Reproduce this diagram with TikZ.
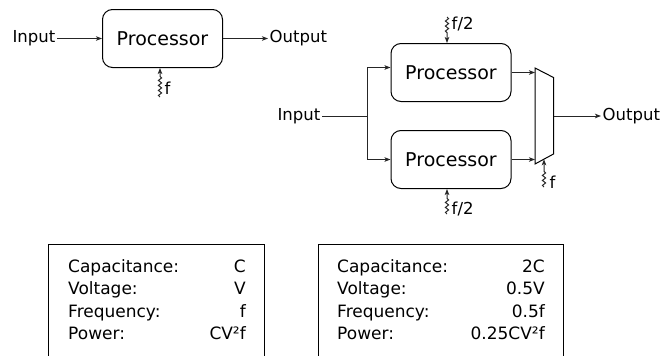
\documentclass[tikz,border=0pt]{standalone}
\usepackage{fontspec}
\setmainfont{DejaVu Sans}
\usetikzlibrary{arrows.meta,decorations.pathmorphing,positioning}

\tikzset{
  proc/.style={draw, line width=1pt, rounded corners=10pt,
    minimum width=120pt, minimum height=58pt,
    font=\fontsize{19}{22}\selectfont},
  lbl/.style={inner sep=1.5pt, font=\fontsize{16.5}{19}\selectfont},
  tbl/.style={inner sep=0pt, font=\fontsize{17}{20}\selectfont},
  wire/.style={line width=1pt, black!85},
  sig/.style={wire, -{Stealth[length=6pt,width=4.5pt,inset=1.5pt]}},
  clk/.style={decorate, decoration={snake, amplitude=1.6pt, segment length=5pt}},
}

\begin{document}
\begin{tikzpicture}[x=1pt,y=-1pt]
  \clip (0,0) rectangle (662,356);

  % one processor at full clock
  \node[proc] (proc1) at (162.5,38.5) {Processor};
  \node[lbl, anchor=east] (in1) at (57,38.5) {Input};
  \node[lbl, anchor=west] (out1) at (268,38.5) {Output};
  \draw[sig] (in1) -- (proc1);
  \draw[sig] (proc1) -- (out1);

  \coordinate (f1s) at (160,97);
  \draw[sig] (f1s) decorate[clk] {-- ++(0,-21)} -- (proc1.south -| f1s);
  \node[lbl, anchor=west] (f1) at (163,88) {f};

  % two processors at half clock
  \node[proc] (pA) at (451,72.5) {Processor};
  \node[proc] (pB) at (451,159.5) {Processor};

  \node[lbl, anchor=east] (in2) at (322,116) {Input};
  \coordinate (br) at (367,116);
  \coordinate (ja) at ([yshift=5pt]pA.west);
  \draw[wire] (in2) -- (br);
  \draw[sig] (br) |- (ja);
  \draw[sig] (br) |- (pB.west);

  % multiplexer
  \coordinate (m1) at (535,68);
  \coordinate (m2) at (553.5,77.5);
  \coordinate (m3) at (553.5,154);
  \coordinate (m4) at (535,164);
  \draw[line width=1pt] (m1) -- (m2) -- (m3) -- (m4) -- cycle;
  \draw[sig] (pA.east) -- (pA.east -| m1);
  \draw[sig] (pB.east) -- (pB.east -| m1);

  \coordinate (mo) at (553.5,116);
  \node[lbl, anchor=west] (out2) at (601,116) {Output};
  \draw[sig] (mo) -- (out2);

  % clocks
  \coordinate (fAs) at (447,17);
  \draw[sig] (fAs) decorate[clk] {-- ++(0,17)} -- (pA.north -| fAs);
  \node[lbl, anchor=west] (fA) at (450,24) {f/2};

  \coordinate (fBs) at (447,214);
  \draw[sig] (fBs) decorate[clk] {-- ++(0,-17)} -- (pB.south -| fBs);
  \node[lbl, anchor=west] (fB) at (450,209) {f/2};

  \coordinate (fMs) at (544,187);
  \coordinate (fMe) at (544,159.3);
  \draw[sig] (fMs) decorate[clk] {-- ++(0,-18)} -- (fMe);
  \node[lbl, anchor=west] (fM) at (548,182) {f};

  % figures for both cases
  \draw[line width=0.8pt] (48.5,244) rectangle (264,380);
  \draw[line width=0.8pt] (318,244) rectangle (563,380);
  \foreach \k/\a/\b [count=\i] in {Capacitance:/C/2C, Voltage:/V/0.5V,
      Frequency:/f/0.5f, Power:/CV²f/0.25CV²f} {
    \node[tbl, anchor=base west] (keyL\i) at (68,{272+22.5*(\i-1)}) {\k};
    \node[tbl, anchor=base east] (valL\i) at (246,{272+22.5*(\i-1)}) {\a};
    \node[tbl, anchor=base west] (keyR\i) at (337,{272+22.5*(\i-1)}) {\k};
    \node[tbl, anchor=base east] (valR\i) at (545,{272+22.5*(\i-1)}) {\b};
  }
\end{tikzpicture}
\end{document}
